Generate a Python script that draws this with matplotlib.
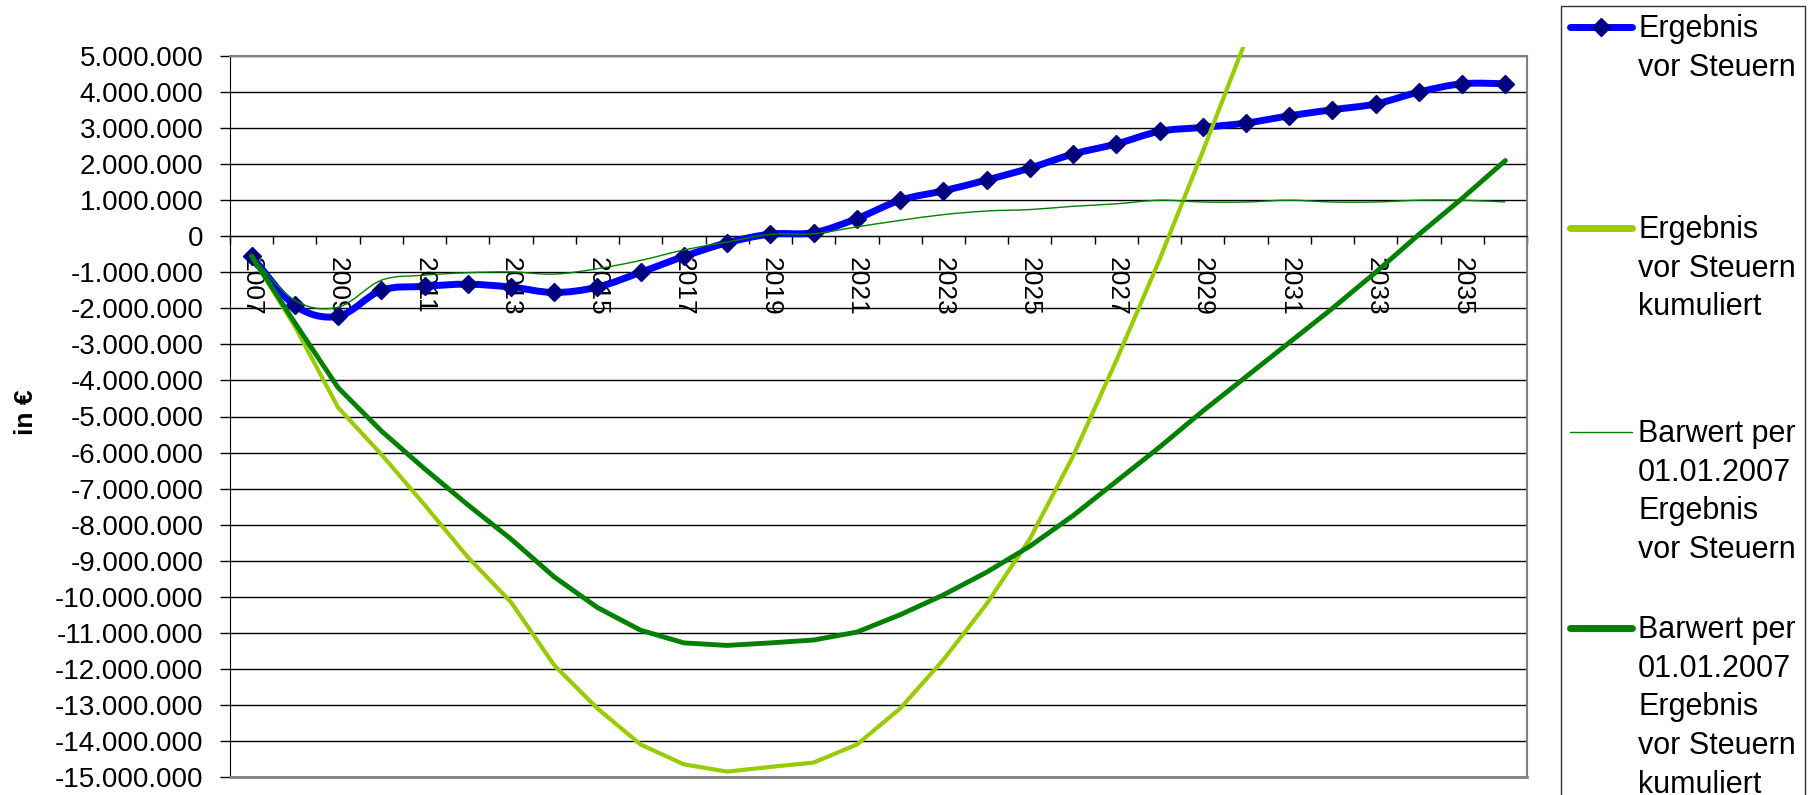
import numpy as np
import matplotlib
matplotlib.use("Agg")
import matplotlib.pyplot as plt
from matplotlib.path import Path
from matplotlib.patches import PathPatch, Rectangle
from matplotlib.lines import Line2D
from matplotlib.ticker import FuncFormatter

plt.rcParams['font.family'] = ['Liberation Sans', 'DejaVu Sans']

# values in Mio. EUR
years = list(range(2007, 2037))
ergebnis = [-0.55, -1.92, -2.22, -1.50, -1.39, -1.33, -1.41, -1.56, -1.41, -1.00,
            -0.56, -0.18, 0.06, 0.10, 0.49, 1.00, 1.26, 1.56, 1.89, 2.28,
            2.56, 2.91, 3.02, 3.14, 3.34, 3.51, 3.67, 4.00, 4.23, 4.23]
ergebnis_kum = [-0.55, -2.50, -4.75, -6.05, -7.45, -8.90, -10.15, -11.90, -13.10, -14.10,
                -14.65, -14.85, -14.72, -14.60, -14.10, -13.10, -11.75, -10.20, -8.40, -6.10,
                -3.45, -0.65, 2.35, 5.45]
barwert = [-0.55, -1.78, -1.97, -1.22, -1.08, -1.01, -0.99, -1.05, -0.90, -0.67,
           -0.38, -0.16, 0.05, 0.07, 0.26, 0.44, 0.60, 0.70, 0.74, 0.83,
           0.90, 1.00, 0.95, 0.95, 1.00, 0.95, 0.95, 1.00, 1.00, 0.95]
barwert_kum = [-0.55, -2.40, -4.20, -5.40, -6.45, -7.45, -8.40, -9.45, -10.30, -10.93,
               -11.28, -11.35, -11.28, -11.20, -10.98, -10.50, -9.95, -9.32, -8.60, -7.75,
               -6.80, -5.85, -4.85, -3.90, -2.95, -2.00, -1.00, 0.05, 1.05, 2.10]

labels = ["Ergebnis\nvor Steuern",
          "Ergebnis\nvor Steuern\nkumuliert",
          "Barwert per\n01.01.2007\nErgebnis\nvor Steuern",
          "Barwert per\n01.01.2007\nErgebnis\nvor Steuern\nkumuliert"]

BLUE = '#0000FF'
NAVY = '#000080'
LIGHT = '#99CC00'
DARK = '#008000'

W, H = 1819, 795


def fx(px):
    return px / W


def fy(py):
    return 1 - py / H


def smooth_path(xs, ys):
    # bezier curve through the points, like excel's smoothed lines
    pts = np.column_stack([np.asarray(xs, float), np.asarray(ys, float)])
    n = len(pts)
    verts = [pts[0]]
    codes = [Path.MOVETO]
    for i in range(n - 1):
        p0 = pts[max(i - 1, 0)]
        p1 = pts[i]
        p2 = pts[i + 1]
        p3 = pts[min(i + 2, n - 1)]
        verts += [p1 + (p2 - p0) / 6, p2 - (p3 - p1) / 6, p2]
        codes += [Path.CURVE4] * 3
    return Path(verts, codes)


fig = plt.figure(figsize=(W / 100, H / 100), dpi=100)
ax = fig.add_axes([fx(230), 18 / H, (1527 - 230) / W, (777 - 56) / H])

x = np.arange(len(years))
mio = 1e6

# Ergebnis vor Steuern (smoothed, with markers)
ax.add_patch(PathPatch(smooth_path(x, np.array(ergebnis) * mio), fill=False,
                       ec=BLUE, lw=5, capstyle='round', joinstyle='round', zorder=3))
ax.plot(x, np.array(ergebnis) * mio, ls='none', marker='D', ms=9.5,
        mfc=NAVY, mec=NAVY, zorder=3.5)

# kumuliert
kum_line, = ax.plot(x[:len(ergebnis_kum)], np.array(ergebnis_kum) * mio, color=LIGHT,
                    lw=3, solid_capstyle='round', solid_joinstyle='round', zorder=4)
kum_line.set_clip_path(Rectangle((0, 0), 1, 1.013, transform=ax.transAxes))

# Barwert (thin, smoothed)
ax.add_patch(PathPatch(smooth_path(x, np.array(barwert) * mio), fill=False,
                       ec=DARK, lw=1, zorder=4.5))

# Barwert kumuliert
ax.plot(x, np.array(barwert_kum) * mio, color=DARK, lw=3.5,
        solid_capstyle='round', solid_joinstyle='round', zorder=5)

ax.set_xlim(-0.5, len(years) - 0.5)
ax.set_ylim(-15 * mio, 5 * mio)

ax.set_yticks(np.arange(-15, 6) * mio)
ax.yaxis.set_major_formatter(FuncFormatter(lambda v, p: f"{v:,.0f}".replace(",", ".")))
ax.tick_params(axis='y', direction='out', length=7, width=1, pad=12, labelsize=20)
ax.yaxis.grid(True, color='black', lw=1)
ax.set_axisbelow(True)

ax.set_xticks(np.arange(-0.5, len(years)), minor=False)
ax.set_xticks(x[::2], minor=True)
ax.set_xticklabels([str(y) for y in years[::2]], minor=True)
ax.tick_params(axis='x', which='major', direction='out', length=6, width=1, labelbottom=False)
ax.tick_params(axis='x', which='minor', length=0, pad=15, labelsize=19, labelrotation=270)

ax.spines['bottom'].set_position(('data', 0))
ax.spines['bottom'].set_color('black')
ax.spines['bottom'].set_zorder(2.8)
ax.spines['left'].set_color('black')
for s in ['top', 'right']:
    ax.spines[s].set_color('#808080')
    ax.spines[s].set_linewidth(1.5)
ax.axhline(-15 * mio, color='#808080', lw=2, clip_on=False, zorder=2.6)

fig.text(fx(26), fy(412), 'in €', rotation=90, fontweight='bold', fontsize=19,
         ha='center', va='center')

# legend box on the right, drawn by hand (excel spreads the entries evenly)
fig.add_artist(Rectangle((fx(1561), fy(820)), fx(1805) - fx(1561), fy(6) - fy(820),
                         transform=fig.transFigure, fill=False, ec='#333333', lw=1))
entry_y = [27, 228, 432, 628]
styles = [dict(color=BLUE, lw=5, marker='D', ms=9.5, mfc=NAVY, mec=NAVY, markevery=[1]),
          dict(color=LIGHT, lw=5),
          dict(color=DARK, lw=1),
          dict(color=DARK, lw=5)]
for ly, lab, st in zip(entry_y, labels, styles):
    fig.add_artist(Line2D([fx(1570), fx(1601), fx(1632)], [fy(ly)] * 3,
                          transform=fig.transFigure, solid_capstyle='round', **st))
    fig.text(fx(1638), fy(ly - 13), lab, fontsize=22, ha='left', va='top',
             linespacing=1.38)

fig.savefig('out.png', dpi=100)
